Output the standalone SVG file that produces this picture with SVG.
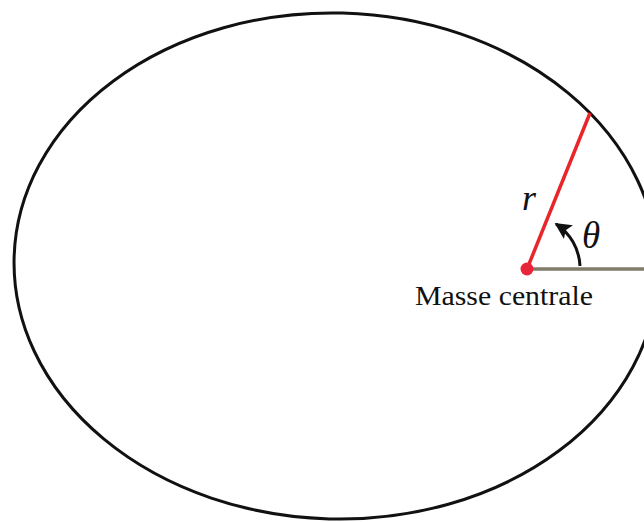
<svg xmlns="http://www.w3.org/2000/svg" width="644" height="522" viewBox="0 0 644 522">
<style>
.lbl{font-family:"Liberation Serif",serif;fill:#111}
.it{font-style:italic}
</style>
<defs>
<marker id="ah" viewBox="0 0 10 10" refX="9" refY="5" markerWidth="5.5" markerHeight="5.5" markerUnits="strokeWidth" orient="auto">
<path d="M0,0 L10,5 L0,10 L2,5 z" fill="#111"/>
</marker>
</defs>
<rect width="644" height="522" fill="#fff"/>
<g id="orbit">
<ellipse cx="336" cy="266" rx="322" ry="253" transform="rotate(1.5 336 266)" fill="none" stroke="#111" stroke-width="3"/>
</g>
<g id="connectors">
<line x1="527" y1="269" x2="644" y2="269" stroke="#807c68" stroke-width="3.5"/>
<line x1="527" y1="269" x2="590" y2="113" stroke="#e8262a" stroke-width="3.5"/>
<path d="M580,266 A53,53 0 0 0 556,224" fill="none" stroke="#111" stroke-width="3" marker-end="url(#ah)"/>
</g>
<g id="mass">
<circle cx="527" cy="269" r="6.5" fill="#e8263a"/>
<text class="lbl" x="415" y="305" font-size="27" textLength="178" lengthAdjust="spacingAndGlyphs">Masse centrale</text>
</g>
<g id="labels">
<text class="lbl it" x="522" y="210" font-size="36">r</text>
<text class="lbl it" x="582" y="248" font-size="37">θ</text>
</g>
</svg>
